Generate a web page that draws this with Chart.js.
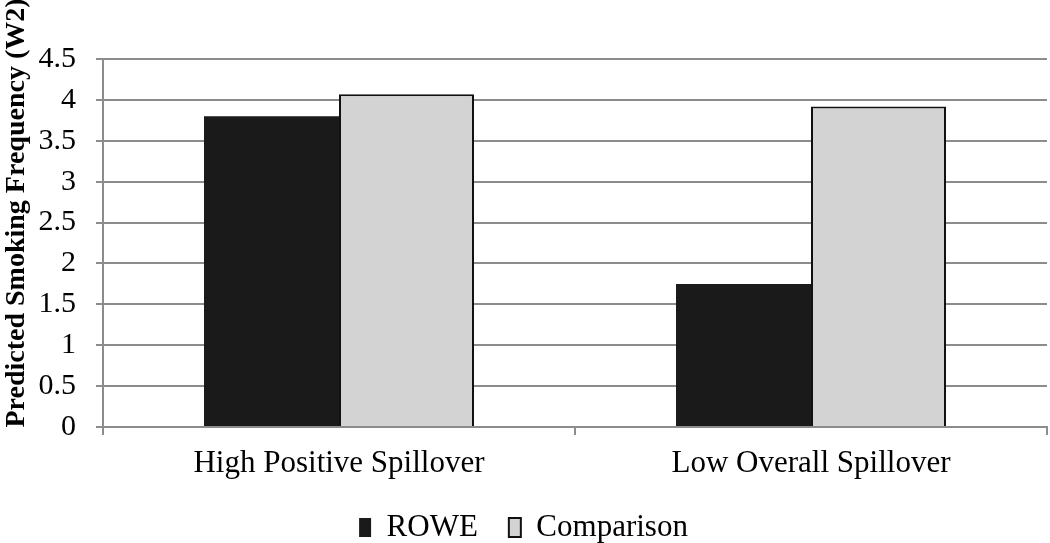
<!DOCTYPE html>
<html><head><meta charset="utf-8">
<script src="https://cdn.jsdelivr.net/npm/chart.js@4"></script>
<style>html,body{margin:0;padding:0;background:#fff}#wrap{width:1050px;height:543px}</style>
</head><body><div id="wrap"><canvas id="c" width="1050" height="543"></canvas></div>
<script>
const categories = ["High Positive Spillover", "Low Overall Spillover"];
const roweValues = [3.80, 1.75];
const comparisonValues = [4.07, 3.92];
const seriesNames = ["ROWE", "Comparison"];
const yTitle = "Predicted Smoking Frequency (W2)";

const FONT = "'Liberation Serif', 'Times New Roman', serif";

const yTitlePlugin = {
  id: 'yTitlePlugin',
  afterDraw(chart) {
    const ctx = chart.ctx;
    ctx.save();
    ctx.translate(17, 213);
    ctx.rotate(-Math.PI / 2);
    ctx.font = "bold 28px " + FONT;
    ctx.fillStyle = '#000';
    ctx.textAlign = 'center';
    ctx.textBaseline = 'middle';
    ctx.fillText(yTitle, 0, 0);
    ctx.restore();
  }
};

new Chart(document.getElementById('c'), {
  type: 'bar',
  data: {
    labels: categories,
    datasets: [
      { label: seriesNames[0], data: roweValues, backgroundColor: '#1a1a1a', borderColor: '#1a1a1a', borderWidth: 0 },
      { label: seriesNames[1], data: comparisonValues, backgroundColor: '#d3d3d3', borderColor: '#111', borderWidth: 2 }
    ]
  },
  plugins: [yTitlePlugin],
  options: {
    responsive: false, animation: false,
    layout: { padding: { top: 59, right: 3, left: 0, bottom: 0 } },
    datasets: { bar: { categoryPercentage: 0.572, barPercentage: 1.0 } },
    plugins: {
      tooltip: { enabled: false },
      legend: {
        position: 'bottom',
        maxHeight: 62,
        labels: { font: { family: FONT, size: 31 }, color: '#000', boxWidth: 12, boxHeight: 19, padding: 31 }
      }
    },
    scales: {
      x: {
        grid: { display: true, drawOnChartArea: false, drawTicks: true, tickLength: 8, color: '#8c8c8c', lineWidth: 2, offset: true },
        border: { color: '#8c8c8c', width: 2 },
        ticks: { font: { family: FONT, size: 31 }, color: '#000', padding: 10 },
        afterFit: s => { s.height = 54; }
      },
      y: {
        min: 0, max: 4.5,
        ticks: { stepSize: 0.5, font: { family: FONT, size: 30 }, color: '#000', padding: 20,
                 callback: v => String(+(+v).toFixed(1)) },
        grid: { color: '#8c8c8c', lineWidth: 2, tickLength: 7 },
        border: { color: '#8c8c8c', width: 2 },
        afterFit: s => { s.width = 103; }
      }
    }
  }
});
</script></body></html>
